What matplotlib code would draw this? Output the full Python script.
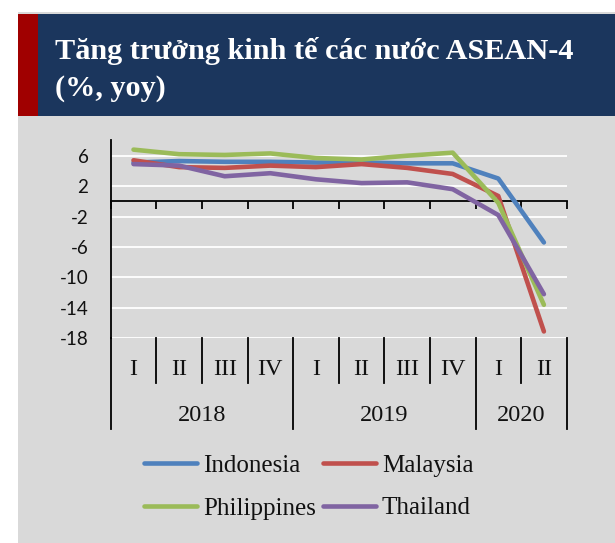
import numpy as np
import matplotlib
matplotlib.use("Agg")
import matplotlib.pyplot as plt
from matplotlib.patches import Rectangle

quarters = ['I', 'II', 'III', 'IV', 'I', 'II', 'III', 'IV', 'I', 'II']
years = ['2018', '2019', '2020']
year_sizes = [4, 4, 2]

indonesia = [5.1, 5.3, 5.2, 5.2, 5.1, 5.1, 5.0, 5.0, 3.0, -5.4]
malaysia = [5.4, 4.5, 4.4, 4.7, 4.5, 4.9, 4.4, 3.6, 0.7, -17.1]
philippines = [6.8, 6.2, 6.1, 6.3, 5.7, 5.5, 6.0, 6.4, -0.2, -13.6]
thailand = [4.9, 4.7, 3.3, 3.7, 2.9, 2.4, 2.5, 1.6, -1.8, -12.2]

series = {
    'Indonesia': (indonesia, '#4F81BD'),
    'Malaysia': (malaysia, '#C0504D'),
    'Philippines': (philippines, '#9BBB59'),
    'Thailand': (thailand, '#8064A2'),
}

plt.rcParams['axes.unicode_minus'] = False
serif = 'Liberation Serif'
txt_color = '#111111'

fig = plt.figure(figsize=(6.15, 5.43), dpi=100)
fig.patch.set_facecolor('white')

# panel + title banner
fig.patches.append(Rectangle((18 / 615, 0), 1, 1 - 12 / 543, transform=fig.transFigure,
                             facecolor='#D9D9D9', edgecolor='none', zorder=-10))
fig.patches.append(Rectangle((18 / 615, 1 - 115.7 / 543), 1, (115.7 - 14) / 543,
                             transform=fig.transFigure, facecolor='#1B365D', edgecolor='none', zorder=-9))
fig.patches.append(Rectangle((18 / 615, 1 - 115.7 / 543), (37.7 - 18) / 615, (115.7 - 14) / 543,
                             transform=fig.transFigure, facecolor='#A00000', edgecolor='none', zorder=-8))
fig.text(55 / 615, 1 - 37 / 543, 'Tăng trưởng kinh tế các nước ASEAN-4\n(%, yoy)',
         color='white', fontsize=21.8, fontweight='bold', family=serif,
         va='top', ha='left', linespacing=1.45)

ax = fig.add_axes([110.7 / 615, 1 - 338.3 / 543, (566.7 - 110.7) / 615, (338.3 - 140.5) / 543])
ax.set_facecolor('none')
ax.set_zorder(5)

x = np.arange(len(quarters)) + 0.5
lines = {}
for name, (vals, col) in series.items():
    lines[name], = ax.plot(x, vals, color=col, lw=3.3, solid_capstyle='round',
                           solid_joinstyle='round', zorder=3, label=name)

ax.set_xlim(0, len(quarters))
ax.set_ylim(-18, 8)
ax.set_yticks(np.arange(-18, 7, 4))
ax.yaxis.grid(True, color='white', lw=1.3)
ax.set_axisbelow(True)
ax.tick_params(axis='y', length=0, pad=16, labelsize=13.5, labelcolor=txt_color)
for lab in ax.get_yticklabels():
    lab.set_family('Lato')

for s in ['top', 'right']:
    ax.spines[s].set_visible(False)
ax.spines['bottom'].set_position(('data', 0))
ax.spines['bottom'].set_color('black')
ax.spines['bottom'].set_linewidth(1.3)
ax.spines['left'].set_color('black')
ax.spines['left'].set_linewidth(1.3)
ax.set_xticks(np.arange(len(quarters) + 1))
ax.tick_params(axis='x', direction='out', length=6, width=1.3, color='black',
               labelbottom=False)

# multi-level category axis below the plot
trans = ax.get_xaxis_transform()
h_px = 338.3 - 140.5
bounds = np.cumsum([0] + year_sizes)
for b in range(len(quarters) + 1):
    depth = 91 if b in bounds else 45
    ax.plot([b, b], [0, -depth / h_px], transform=trans, color='black', lw=1.3,
            clip_on=False, zorder=4)
for i, q in enumerate(quarters):
    ax.text(i + 0.5, -31 / h_px, q, transform=trans, ha='center', va='center',
            family=serif, fontsize=17.5, color=txt_color)
for j, yr in enumerate(years):
    ax.text((bounds[j] + bounds[j + 1]) / 2, -77 / h_px, yr, transform=trans,
            ha='center', va='center', family=serif, fontsize=17.5, color=txt_color)

order = ['Indonesia', 'Philippines', 'Malaysia', 'Thailand']
leg = fig.legend([lines[n] for n in order], order, ncol=2, loc='center',
                 bbox_to_anchor=(0.502, 1 - 487 / 543), frameon=False,
                 prop={'family': serif, 'size': 18}, handlelength=2.1,
                 handletextpad=0.25, columnspacing=0.3, labelspacing=0.8)
for t in leg.get_texts():
    t.set_color(txt_color)

fig.savefig('out.png', dpi=100)
